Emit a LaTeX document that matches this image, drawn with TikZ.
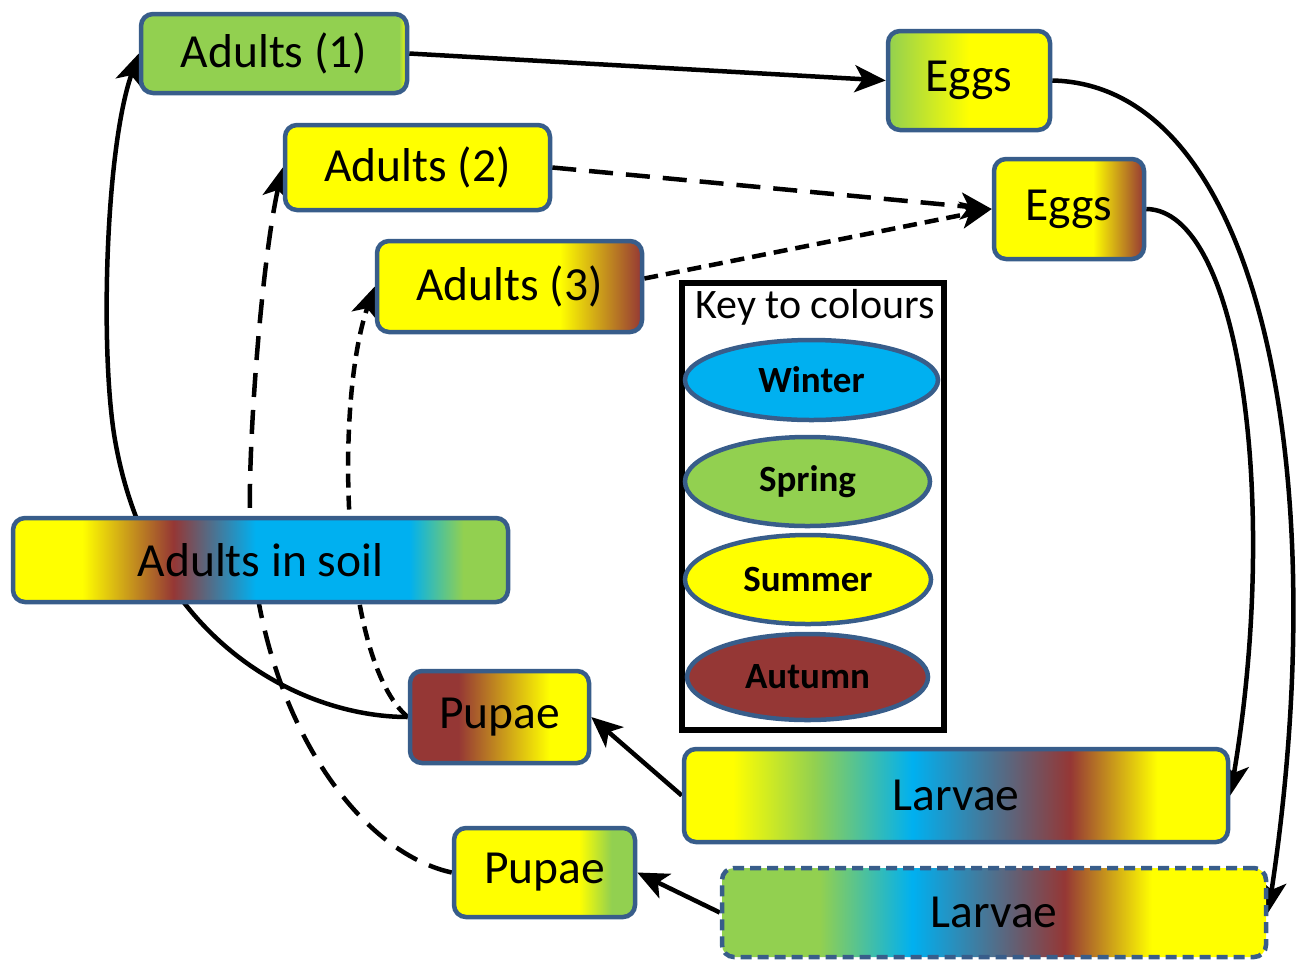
\documentclass[tikz,border=0pt]{standalone}
\usepackage{fontspec}
\setmainfont{Carlito}
\usetikzlibrary{arrows.meta,shapes.geometric,backgrounds}

\definecolor{winter}{RGB}{0,176,240}
\definecolor{spring}{RGB}{146,208,80}
\definecolor{summer}{RGB}{255,255,0}
\definecolor{autumn}{RGB}{149,55,53}
\definecolor{rim}{RGB}{56,93,138}

% season gradients (25bp = left edge, 75bp = right edge)
\pgfdeclarehorizontalshading{adultsonegrad}{100bp}{color(0bp)=(spring); color(73.5bp)=(spring); color(75bp)=(summer); color(100bp)=(summer)}
\pgfdeclarehorizontalshading{eggsonegrad}{100bp}{color(0bp)=(spring); color(25bp)=(spring); color(50bp)=(summer); color(100bp)=(summer)}
\pgfdeclarehorizontalshading{eggstwograd}{100bp}{color(0bp)=(summer); color(58bp)=(summer); color(75bp)=(autumn); color(100bp)=(autumn)}
\pgfdeclarehorizontalshading{adultsthreegrad}{100bp}{color(0bp)=(summer); color(59.5bp)=(summer); color(75bp)=(autumn); color(100bp)=(autumn)}
\pgfdeclarehorizontalshading{soilgrad}{100bp}{color(0bp)=(summer); color(32bp)=(summer); color(41.2bp)=(autumn); color(49.5bp)=(winter); color(65bp)=(winter); color(70.5bp)=(spring); color(100bp)=(spring)}
\pgfdeclarehorizontalshading{pupaeonegrad}{100bp}{color(0bp)=(autumn); color(38.5bp)=(autumn); color(64bp)=(summer); color(100bp)=(summer)}
\pgfdeclarehorizontalshading{larvaeonegrad}{100bp}{color(0bp)=(summer); color(29.5bp)=(summer); color(37bp)=(spring); color(46bp)=(winter); color(60.5bp)=(autumn); color(68.5bp)=(summer); color(100bp)=(summer)}
\pgfdeclarehorizontalshading{pupaetwograd}{100bp}{color(0bp)=(summer); color(59.5bp)=(summer); color(68.5bp)=(spring); color(100bp)=(spring)}
\pgfdeclarehorizontalshading{larvaetwograd}{100bp}{color(0bp)=(spring); color(34bp)=(spring); color(42.5bp)=(winter); color(56.5bp)=(autumn); color(64.5bp)=(summer); color(100bp)=(summer)}

\tikzset{
  stage/.style = {rectangle, rounded corners=12pt, draw=rim, line width=4.5pt,
                  inner sep=0pt, font=\fontsize{47.5}{52}\selectfont},
  season/.style = {ellipse, draw=rim, line width=4.5pt, inner sep=0pt,
                   font=\fontsize{37}{41}\selectfont\bfseries},
  link/.style = {line width=4.5pt, -{Stealth[length=31pt,width=27pt,inset=8pt]}},
  longdash/.style = {dash pattern=on 24pt off 13pt},
  shortdash/.style = {dash pattern=on 14pt off 8pt}
}

\begin{document}
\begin{tikzpicture}[x=1pt, y=-1pt]
	\useasboundingbox (0,0) rectangle (1305,959);

	% Stages
	\node[stage, shade, shading=adultsonegrad, minimum width=266pt, minimum height=79pt] (adultsone) at (274,53.5) {Adults (1)};
	\node[stage, shade, shading=eggsonegrad, minimum width=162pt, minimum height=99pt] (eggsone) at (969,80.5) {Eggs};
	\node[stage, fill=summer, minimum width=265pt, minimum height=85pt] (adultstwo) at (417.5,167.5) {Adults (2)};
	\node[stage, shade, shading=eggstwograd, minimum width=150pt, minimum height=100pt] (eggstwo) at (1069,209) {Eggs};
	\node[stage, shade, shading=adultsthreegrad, minimum width=265pt, minimum height=91pt] (adultsthree) at (509.5,286.5) {Adults (3)};
	\node[stage, shade, shading=soilgrad, minimum width=495pt, minimum height=84pt] (soil) at (260.5,560) {Adults in soil};
	\node[stage, shade, shading=pupaeonegrad, minimum width=179pt, minimum height=92pt] (pupaeone) at (499.5,717) {Pupae};
	\node[stage, shade, shading=larvaeonegrad, minimum width=544pt, minimum height=93pt] (larvaeone) at (956,795.5) {Larvae};
	\node[stage, shade, shading=pupaetwograd, minimum width=181pt, minimum height=89pt] (pupaetwo) at (544.5,872.5) {Pupae};
	\node[stage, shade, shading=larvaetwograd, dash pattern=on 11pt off 6pt, minimum width=544pt, minimum height=89pt] (larvaetwo) at (994,912.5) {Larvae};

	% Key
	\node[draw=black, line width=5.5pt, inner sep=0pt, minimum width=262pt, minimum height=447pt] (key) at (813,506.5) {};
	\node[font=\fontsize{42}{46}\selectfont] (keytitle) at (815,307) {Key to colours};
	\node[season, fill=winter, minimum width=253pt, minimum height=80pt] (winter) at (811.5,380) {Winter};
	\node[season, fill=spring, minimum width=245pt, minimum height=89pt] (spring) at (807.5,481.5) {Spring};
	\node[season, fill=summer, minimum width=246pt, minimum height=89pt] (summer) at (808,579.5) {Summer};
	\node[season, fill=autumn, minimum width=241pt, minimum height=86pt] (autumn) at (807.5,677) {Autumn};

	% Life cycle
	\begin{scope}[on background layer]
	\draw[link] (adultsone.east) -- (eggsone.west);
	\draw[link, longdash] (adultstwo.east) -- (eggstwo.west);
	\draw[link, shortdash] ([yshift=8pt]adultsthree.east) -- (eggstwo.west);
	\draw[link] (eggsone.east) .. controls (1260,85) and (1335,470) .. (larvaetwo.east);
	\draw[link] (eggstwo.east) .. controls (1240,210) and (1280,500) .. (larvaeone.east);
	\draw[link] (larvaeone.west) -- (pupaeone.east);
	\draw[link] (larvaetwo.west) -- (pupaetwo.east);
	\draw[link] (pupaeone.west) .. controls (300,717) and (150,640) .. (115,440)
	                            .. controls (100,354) and (105,150) .. (adultsone.west);
	\draw[link, longdash] (pupaetwo.west) .. controls (350,850) and (255,700) .. (250,520)
	                                      .. controls (248,440) and (262,260) .. (adultstwo.west);
	\draw[link, shortdash] (pupaeone.west) .. controls (340,660) and (335,400) .. (adultsthree.west);
	\end{scope}
\end{tikzpicture}
\end{document}
